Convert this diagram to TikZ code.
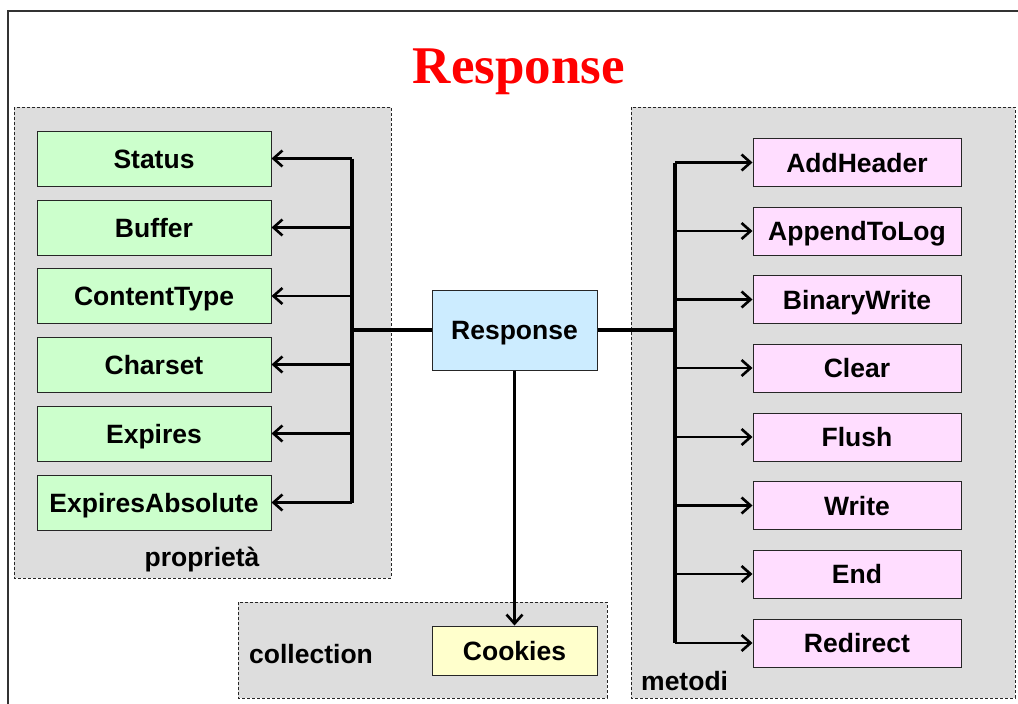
\documentclass[tikz,border=0pt]{standalone}
\usepackage{fontspec}
\setmainfont{Liberation Sans}
\newfontfamily\titlefont{Liberation Serif}
\usetikzlibrary{arrows.meta}
\definecolor{grp}{HTML}{DDDDDD}
\definecolor{propc}{HTML}{CCFFCC}
\definecolor{methc}{HTML}{FFDDFF}
\definecolor{mainc}{HTML}{CCECFF}
\definecolor{cookc}{HTML}{FFFFCC}
\tikzset{
  x=1pt,y=-1pt,
  group/.style={draw=black!85,line width=0.8pt,fill=grp,dash pattern=on 3pt off 2pt},
  item/.style={draw=black!85,line width=1pt,font=\fontsize{26.5}{30}\selectfont\bfseries,inner sep=0pt,text height=19pt,text depth=0pt},
  prop/.style={item,fill=propc,minimum width=234pt,minimum height=55pt},
  meth/.style={item,fill=methc,minimum width=208pt,minimum height=48pt},
  link/.style={line width=3.2pt},
  arr/.style={line width=2.6pt,-{Straight Barb[length=9pt,width=16pt,line width=2.6pt]}},
  lbl/.style={font=\fontsize{26.5}{30}\selectfont\bfseries,inner sep=0pt}
}
\begin{document}
\begin{tikzpicture}
\useasboundingbox (0,0) rectangle (1018,704);
\fill[white] (0,0) rectangle (1018,704);
\draw[line width=1.4pt,black!80] (8,704) -- (8,11) -- (1018,11);
\node[text=red,font=\titlefont\fontsize{53}{60}\selectfont\bfseries] (title) at (519,72) {Response};
% groups
\draw[group] (14,107) rectangle (391,578);
\draw[group] (238,602) rectangle (607,698);
\draw[group] (631,107) rectangle (1015,698);
\node[lbl] (lprop) at (202,560) {proprietà};
\node[lbl,anchor=west] (lcoll) at (249,654) {collection};
\node[lbl,anchor=west] (lmet) at (641,681) {metodi};
% main
\node[item,fill=mainc,minimum width=165pt,minimum height=80pt] (resp) at (514.5,330) {Response};
\node[item,fill=cookc,minimum width=165pt,minimum height=49pt] (cook) at (514.5,650.5) {Cookies};
% properties
\node[prop] (p1) at (154,158.5) {Status};
\node[prop] (p2) at (154,227.5) {Buffer};
\node[prop] (p3) at (154,296) {ContentType};
\node[prop] (p4) at (154,364.5) {Charset};
\node[prop] (p5) at (154,433.5) {Expires};
\node[prop] (p6) at (154,502.5) {ExpiresAbsolute};
% methods
\node[meth] (m1) at (857,162.5) {AddHeader};
\node[meth] (m2) at (857,231) {AppendToLog};
\node[meth] (m3) at (857,299.5) {BinaryWrite};
\node[meth] (m4) at (857,368) {Clear};
\node[meth] (m5) at (857,437) {Flush};
\node[meth] (m6) at (857,505.5) {Write};
\node[meth] (m7) at (857,574) {End};
\node[meth] (m8) at (857,643) {Redirect};
% buses
\coordinate (lb) at (352,330);
\coordinate (rb) at (675,330);
\draw[link] (resp.west) -- (lb);
\draw[link] (lb |- p1.east) -- (lb |- p6.east);
\foreach \i in {1,...,6} \draw[arr] (lb |- p\i.east) -- (p\i.east);
\draw[link] (resp.east) -- (rb);
\draw[link] (rb |- m1.west) -- (rb |- m8.west);
\foreach \i in {1,...,8} \draw[arr] (rb |- m\i.west) -- (m\i.west);
\draw[arr] (resp.south) -- (cook.north);
\end{tikzpicture}
\end{document}
